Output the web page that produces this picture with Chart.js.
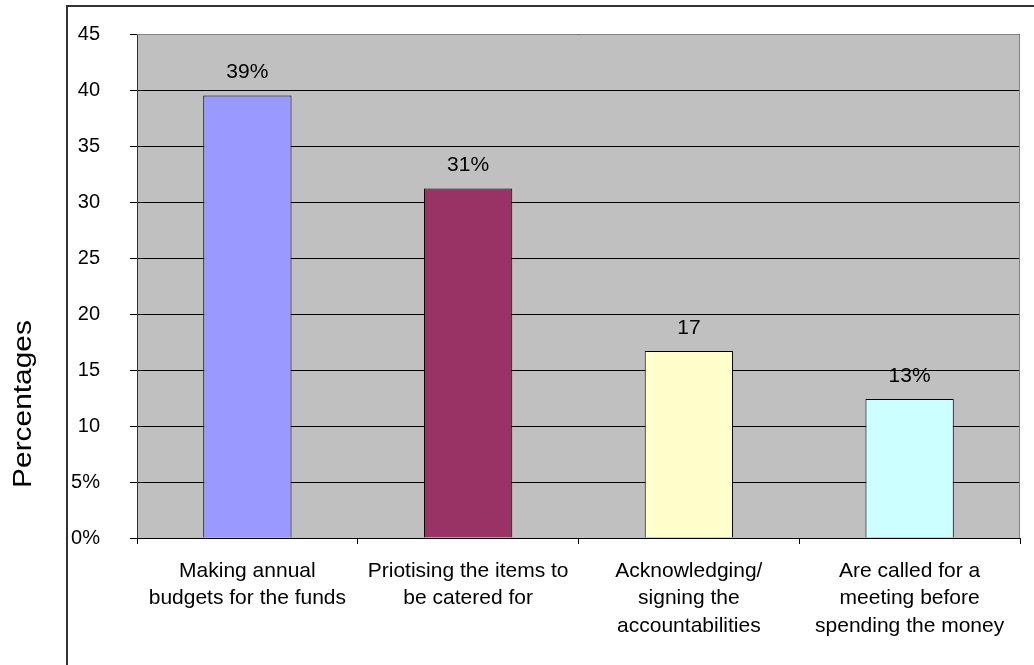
<!DOCTYPE html>
<html>
<head>
<meta charset="utf-8">
<script src="https://cdn.jsdelivr.net/npm/chart.js@4/dist/chart.umd.min.js"></script>
<style>
  html, body { margin: 0; padding: 0; background: #fff; }
  #wrap { width: 1034px; height: 665px; }
</style>
</head>
<body>
<div id="wrap"><canvas id="c" width="1034" height="665"></canvas></div>
<script>
// data
const categories = [
    ['Making annual', 'budgets for the funds'],
    ['Priotising the items to', 'be catered for'],
    ['Acknowledging/', 'signing the', 'accountabilities'],
    ['Are called for a', 'meeting before', 'spending the money']
];
const values = [39.5, 31.2, 16.7, 12.4];
const valueLabels = ['39%', '31%', '17', '13%'];
const yTicks = [0, 5, 10, 15, 20, 25, 30, 35, 40, 45];
const yTickLabels = ['0%', '5%', '10', '15', '20', '25', '30', '35', '40', '45'];
const barColors = ['#9999FF', '#993366', '#FFFFCC', '#CCFFFF'];

const FONT = 'Arial, "Liberation Sans", sans-serif';

// frame, grey plot background, y title and value labels
const frame = {
    id: 'frame',
    beforeDraw(chart) {
        const { ctx, chartArea: a } = chart;
        ctx.save();
        ctx.fillStyle = '#C0C0C0';
        ctx.fillRect(a.left, a.top, a.right - a.left, a.bottom - a.top);
        ctx.strokeStyle = '#333';
        ctx.lineWidth = 2;
        ctx.strokeRect(67, 6, 975, 680);
        ctx.translate(31, 404);
        ctx.rotate(-Math.PI / 2);
        ctx.scale(1.15, 1);
        ctx.fillStyle = '#000';
        ctx.font = '26px ' + FONT;
        ctx.textAlign = 'center';
        ctx.textBaseline = 'alphabetic';
        ctx.fillText('Percentages', 0, 0);
        ctx.restore();
    },
    afterDatasetsDraw(chart) {
        const { ctx, chartArea: a } = chart;
        ctx.save();
        ctx.strokeStyle = '#808080';
        ctx.lineWidth = 1;
        ctx.beginPath();
        ctx.moveTo(a.left, a.top + 0.5);
        ctx.lineTo(a.right - 0.5, a.top + 0.5);
        ctx.lineTo(a.right - 0.5, a.bottom);
        ctx.stroke();
        ctx.fillStyle = '#000';
        ctx.font = '21px ' + FONT;
        ctx.textAlign = 'center';
        ctx.textBaseline = 'middle';
        chart.getDatasetMeta(0).data.forEach((bar, i) => {
            ctx.fillText(valueLabels[i], bar.x, bar.y - 23);
        });
        ctx.restore();
    }
};

new Chart(document.getElementById('c'), {
    type: 'bar',
    data: {
        labels: categories,
        datasets: [{
            data: values,
            backgroundColor: barColors,
            borderColor: '#000',
            borderWidth: 1,
            barPercentage: 0.4,
            categoryPercentage: 1
        }]
    },
    options: {
        responsive: false,
        animation: false,
        layout: { padding: { left: 70, top: 34, right: 14, bottom: 0 } },
        plugins: { legend: { display: false }, tooltip: { enabled: false } },
        scales: {
            x: {
                afterFit: (s) => { s.height = 127; },
                grid: { offset: true, drawOnChartArea: false, color: '#000', tickLength: 6 },
                border: { color: '#000' },
                ticks: {
                    color: '#000',
                    font: { family: FONT, size: 21, lineHeight: 1.29 },
                    padding: 14,
                    maxRotation: 0
                }
            },
            y: {
                min: 0,
                max: 45,
                afterFit: (s) => { s.width = 67; s.paddingTop = 0; s.paddingBottom = 0; },
                afterBuildTicks: (s) => { s.ticks = yTicks.map(v => ({ value: v })); },
                grid: { color: '#000', tickLength: 7 },
                border: { color: '#333' },
                ticks: {
                    color: '#000',
                    font: { family: FONT, size: 20 },
                    padding: 30,
                    callback: (v) => yTickLabels[yTicks.indexOf(v)]
                }
            }
        }
    },
    plugins: [frame]
});
</script>
</body>
</html>
